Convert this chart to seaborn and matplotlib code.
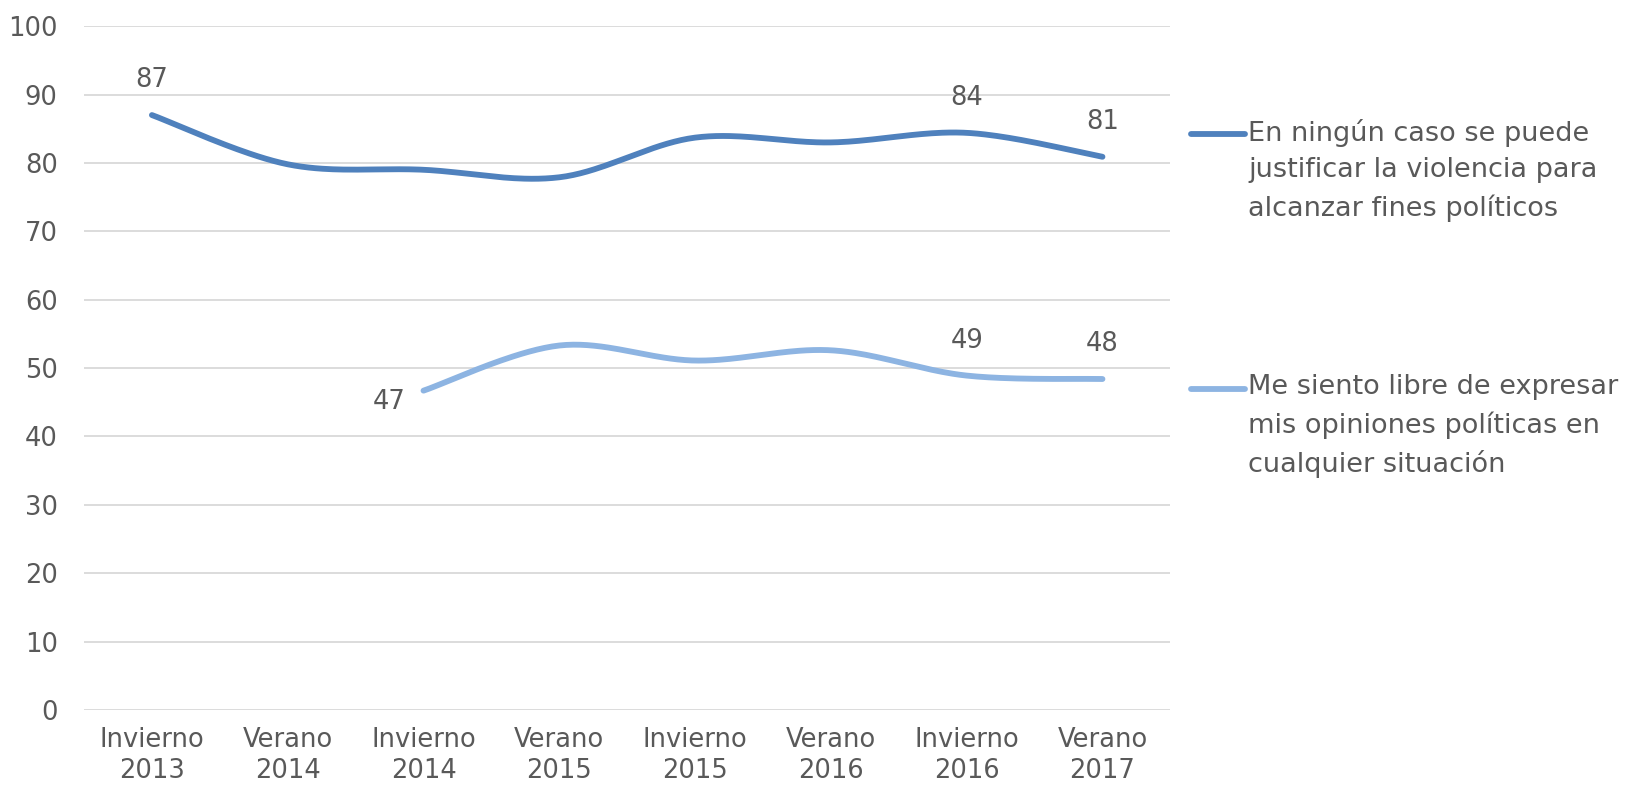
import numpy as np
import pandas as pd
import matplotlib
matplotlib.use("Agg")
import matplotlib.pyplot as plt
from matplotlib.lines import Line2D
import seaborn as sns

sns.set_theme(style="white")
plt.rcParams['font.family'] = ['DejaVu Sans']

# datos
periodos = ["Invierno\n2013", "Verano\n2014", "Invierno\n2014", "Verano\n2015",
            "Invierno\n2015", "Verano\n2016", "Invierno\n2016", "Verano\n2017"]
violencia = [87, 79.8, 79.0, 77.9, 83.7, 83.0, 84.4, 80.9]
libre = [np.nan, np.nan, 46.7, 53.3, 51.1, 52.6, 48.9, 48.4]
etiquetas_violencia = {0: "87", 6: "84", 7: "81"}
etiquetas_libre = {2: "47", 6: "49", 7: "48"}
nombres = ["En ningún caso se puede\njustificar la violencia para\nalcanzar fines políticos",
           "Me siento libre de expresar\nmis opiniones políticas en\ncualquier situación"]
colores = ["#4F81BD", "#8DB4E2"]
gris = "#595959"


def suavizar(x, y, n=40):
    # curva tipo Excel (Bezier con puntos de control Catmull-Rom)
    x = np.asarray(x, float)
    y = np.asarray(y, float)
    xs, ys = [], []
    for i in range(len(x) - 1):
        p0 = np.array([x[max(i - 1, 0)], y[max(i - 1, 0)]])
        p1 = np.array([x[i], y[i]])
        p2 = np.array([x[i + 1], y[i + 1]])
        p3 = np.array([x[min(i + 2, len(x) - 1)], y[min(i + 2, len(x) - 1)]])
        c1 = p1 + (p2 - p0) / 6
        c2 = p2 - (p3 - p1) / 6
        t = np.linspace(0, 1, n)[:, None]
        seg = ((1 - t) ** 3) * p1 + 3 * ((1 - t) ** 2) * t * c1 + 3 * (1 - t) * t ** 2 * c2 + t ** 3 * p2
        xs.extend(seg[:, 0])
        ys.extend(seg[:, 1])
    return np.array(xs), np.array(ys)


fig = plt.figure(figsize=(16.41, 7.93), dpi=100)
ax = fig.add_axes([0.0512, 0.1047, 0.662, 0.8623])

for serie, color in zip([violencia, libre], colores):
    pos = [i for i, v in enumerate(serie) if not np.isnan(v)]
    vals = [serie[i] for i in pos]
    sx, sy = suavizar(pos, vals)
    sns.lineplot(x=sx, y=sy, ax=ax, color=color, lw=4.2, sort=False,
                 solid_capstyle="round", zorder=3)

for i, txt in etiquetas_violencia.items():
    ax.annotate(txt, (i, violencia[i]), xytext=(0, 25), textcoords="offset points",
                ha="center", va="center", fontsize=18.5, color=gris)
for i, txt in etiquetas_libre.items():
    off = (-25, -8) if i == 2 else (0, 25)
    ax.annotate(txt, (i, libre[i]), xytext=off, textcoords="offset points",
                ha="center", va="center", fontsize=18.5, color=gris)

ax.set_xlim(-0.5, 7.5)
ax.set_ylim(0, 100)
ax.set_yticks(range(0, 101, 10))
ax.set_xticks(range(len(periodos)))
ax.set_xticklabels(periodos, linespacing=1.25)
ax.yaxis.grid(True, color="#D9D9D9", lw=1.3)
ax.set_axisbelow(True)
for s in ax.spines.values():
    s.set_visible(False)
ax.tick_params(axis="both", length=0, labelsize=18.5, labelcolor=gris)
ax.tick_params(axis="y", pad=19)
ax.tick_params(axis="x", pad=12)

# leyenda
for k, (nombre, color) in enumerate(zip(nombres, colores)):
    yl = [0.831, 0.509][k]
    fig.add_artist(Line2D([0.7255, 0.7585], [yl, yl], transform=fig.transFigure,
                          color=color, lw=4.2, solid_capstyle="round"))
    fig.text(0.7605, yl + 0.019, nombre, ha="left", va="top", fontsize=19.5,
             color=gris, linespacing=1.51)

fig.savefig("out.png", dpi=100)
